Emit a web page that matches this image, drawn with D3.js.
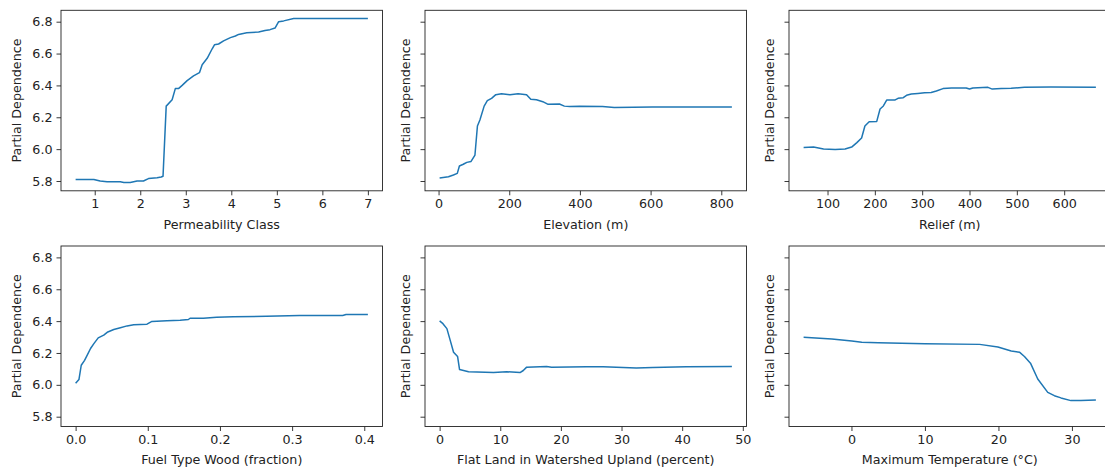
<!DOCTYPE html>
<html>
<head>
<meta charset="utf-8">
<script src="https://cdn.jsdelivr.net/npm/d3@7"></script>
<style>
  body { margin: 0; background: #fff; }
  svg text { font-family: "DejaVu Sans", sans-serif; fill: #222; }
</style>
</head>
<body>
<svg id="chart" width="1105" height="468"></svg>
<script>
// Partial dependence curves, one pair of arrays per feature
const permeabilityX = [0.58, 0.98, 1.12, 1.27, 1.56, 1.64, 1.78, 1.93, 2.07, 2.18, 2.37, 2.46, 2.50, 2.57, 2.70, 2.77, 2.84, 2.92, 3.03, 3.17, 3.30, 3.36, 3.47, 3.58, 3.63, 3.72, 3.83, 3.98, 4.09, 4.16, 4.34, 4.60, 4.74, 4.85, 4.96, 5.04, 5.15, 5.37, 7.00];
const permeabilityPD = [5.81, 5.81, 5.80, 5.795, 5.795, 5.79, 5.79, 5.80, 5.80, 5.815, 5.82, 5.825, 5.83, 6.27, 6.31, 6.38, 6.38, 6.40, 6.43, 6.46, 6.48, 6.53, 6.57, 6.63, 6.655, 6.66, 6.68, 6.70, 6.71, 6.72, 6.73, 6.735, 6.745, 6.75, 6.76, 6.80, 6.805, 6.82, 6.82];

const elevationX = [3, 28, 42, 53, 59, 70, 80, 92, 103, 110, 117, 129, 138, 150, 162, 178, 202, 225, 249, 261, 277, 295, 310, 342, 356, 371, 399, 464, 497, 605, 830];
const elevationPD = [5.819, 5.827, 5.838, 5.848, 5.894, 5.905, 5.917, 5.923, 5.963, 6.145, 6.183, 6.27, 6.304, 6.319, 6.342, 6.348, 6.342, 6.348, 6.342, 6.313, 6.31, 6.298, 6.281, 6.283, 6.27, 6.267, 6.27, 6.267, 6.262, 6.264, 6.264];

const reliefX = [49.5, 70.5, 91.6, 116, 137, 151, 162, 172, 179, 188, 204, 211, 218, 225, 242, 249, 260, 267, 277, 291, 305, 319, 330, 344, 362, 393, 400, 407, 439, 448, 467, 488, 516, 572, 667];
const reliefPD = [6.011, 6.013, 6.001, 5.997, 6.001, 6.013, 6.041, 6.07, 6.145, 6.172, 6.174, 6.252, 6.271, 6.308, 6.308, 6.319, 6.323, 6.338, 6.346, 6.35, 6.354, 6.356, 6.365, 6.38, 6.384, 6.384, 6.377, 6.384, 6.388, 6.377, 6.38, 6.382, 6.388, 6.39, 6.388];

const fuelWoodX = [0, 0.0046, 0.0078, 0.0124, 0.0161, 0.0207, 0.0253, 0.0313, 0.039, 0.0446, 0.0529, 0.062, 0.0713, 0.0805, 0.0989, 0.1057, 0.1264, 0.1448, 0.1563, 0.1586, 0.177, 0.1954, 0.2184, 0.2644, 0.3103, 0.3701, 0.3747, 0.405];
const fuelWoodPD = [6.01, 6.033, 6.123, 6.154, 6.186, 6.228, 6.259, 6.295, 6.312, 6.332, 6.347, 6.358, 6.37, 6.377, 6.381, 6.398, 6.402, 6.406, 6.41, 6.418, 6.418, 6.425, 6.427, 6.431, 6.435, 6.435, 6.441, 6.441];

const flatLandX = [0, 0.55, 1.2, 1.75, 2.3, 2.96, 3.29, 3.95, 4.77, 8.88, 11.07, 13.26, 13.8, 14.36, 17.64, 18.47, 24.22, 26.96, 30.25, 32.44, 35.18, 40.66, 48.2];
const flatLandPD = [6.401, 6.384, 6.353, 6.279, 6.205, 6.178, 6.096, 6.09, 6.082, 6.077, 6.082, 6.077, 6.09, 6.111, 6.115, 6.111, 6.113, 6.113, 6.109, 6.105, 6.109, 6.113, 6.115];

const maxTempX = [-6.51, -2.67, 0.05, 1.4, 3.66, 9.99, 17.44, 19.93, 21.74, 22.86, 23.54, 24.36, 25.35, 26.71, 27.61, 28.51, 29.87, 31.22, 33.26];
const maxTempPD = [6.298, 6.287, 6.275, 6.268, 6.264, 6.258, 6.254, 6.237, 6.212, 6.205, 6.178, 6.136, 6.037, 5.953, 5.932, 5.918, 5.901, 5.901, 5.905];

// Tick values
const pdTicks = [5.8, 6.0, 6.2, 6.4, 6.6, 6.8];
const permeabilityTicks = [1, 2, 3, 4, 5, 6, 7];
const elevationTicks = [0, 200, 400, 600, 800];
const reliefTicks = [100, 200, 300, 400, 500, 600, 700];
const fuelWoodTicks = [0.0, 0.1, 0.2, 0.3, 0.4];
const flatLandTicks = [0, 10, 20, 30, 40, 50];
const maxTempTicks = [-10, 0, 10, 20, 30];

const panels = [
  { label: "Permeability Class", xs: permeabilityX, ys: permeabilityPD, ticks: permeabilityTicks, fmt: d3.format("d") },
  { label: "Elevation (m)", xs: elevationX, ys: elevationPD, ticks: elevationTicks, fmt: d3.format("d") },
  { label: "Relief (m)", xs: reliefX, ys: reliefPD, ticks: reliefTicks, fmt: d3.format("d") },
  { label: "Fuel Type Wood (fraction)", xs: fuelWoodX, ys: fuelWoodPD, ticks: fuelWoodTicks, fmt: d3.format(".1f") },
  { label: "Flat Land in Watershed Upland (percent)", xs: flatLandX, ys: flatLandPD, ticks: flatLandTicks, fmt: d3.format("d") },
  { label: "Maximum Temperature (°C)", xs: maxTempX, ys: maxTempPD, ticks: maxTempTicks, fmt: d3.format("d") }
];

// Grid geometry
const colLeft = [61, 425, 789];
const rowTop = [10.3, 246];
const panelW = 321.5, panelH = 180.5;
const fontSize = 12.7;
const lineColor = "#1f77b4";
const axisColor = "#222";

// Pad a data extent by 5% on each side
function padded(ext) {
  const m = (ext[1] - ext[0]) * 0.05;
  return [ext[0] - m, ext[1] + m];
}

// Shared y scale domain over every curve
const allPD = panels.flatMap(p => p.ys);
const yDomain = padded(d3.extent(allPD));

const svg = d3.select("#chart");

panels.forEach((p, i) => {
  const col = i % 3, row = Math.floor(i / 3);
  const x0 = colLeft[col], y0 = rowTop[row];
  const g = svg.append("g").attr("transform", `translate(${x0},${y0})`);

  const x = d3.scaleLinear().domain(padded(d3.extent(p.xs))).range([0, panelW]);
  const y = d3.scaleLinear().domain(yDomain).range([panelH, 0]);

  const [xd0, xd1] = x.domain();
  const xTicks = p.ticks.filter(t => t >= xd0 - 1e-9 && t <= xd1 + 1e-9);

  // x axis
  const xAxis = d3.axisBottom(x).tickValues(xTicks).tickFormat(p.fmt)
    .tickSizeInner(4.5).tickSizeOuter(0).tickPadding(3.5);
  const gx = g.append("g").attr("transform", `translate(0,${panelH})`).call(xAxis);
  gx.select(".domain").remove();
  gx.selectAll(".tick line").attr("stroke", axisColor).attr("stroke-width", 0.9);
  gx.selectAll(".tick text").attr("font-size", fontSize).attr("fill", "#222")
    .attr("font-family", "DejaVu Sans, sans-serif");

  // y axis (labels on the first column only)
  const yAxis = d3.axisLeft(y).tickValues(pdTicks)
    .tickFormat(col === 0 ? d3.format(".1f") : () => "")
    .tickSizeInner(4.5).tickSizeOuter(0).tickPadding(4);
  const gy = g.append("g").call(yAxis);
  gy.select(".domain").remove();
  gy.selectAll(".tick line").attr("stroke", axisColor).attr("stroke-width", 0.9);
  gy.selectAll(".tick text").attr("font-size", fontSize).attr("fill", "#222")
    .attr("font-family", "DejaVu Sans, sans-serif");

  // curve
  const pts = p.xs.map((v, k) => [v, p.ys[k]]);
  g.append("path")
    .datum(pts)
    .attr("fill", "none")
    .attr("stroke", lineColor)
    .attr("stroke-width", 1.5)
    .attr("stroke-linejoin", "round")
    .attr("d", d3.line().x(d => x(d[0])).y(d => y(d[1])));

  // frame
  g.append("rect")
    .attr("x", 0).attr("y", 0).attr("width", panelW).attr("height", panelH)
    .attr("fill", "none").attr("stroke", axisColor).attr("stroke-width", 0.9);

  // axis titles
  g.append("text")
    .attr("x", panelW / 2).attr("y", panelH + 37.8)
    .attr("text-anchor", "middle").attr("font-size", fontSize)
    .text(p.label);

  const yLabelOffset = col === 0 ? 40 : 15;
  g.append("text")
    .attr("transform", `translate(${-yLabelOffset},${panelH / 2}) rotate(-90)`)
    .attr("text-anchor", "middle").attr("font-size", fontSize)
    .text("Partial Dependence");
});
</script>
</body>
</html>
